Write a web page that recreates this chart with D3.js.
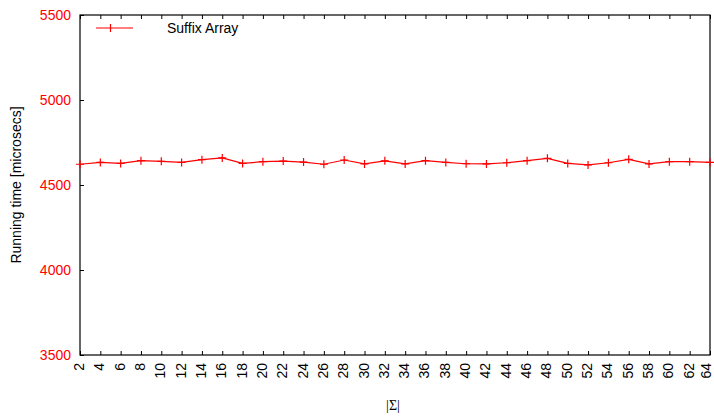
<!DOCTYPE html>
<html>
<head>
<meta charset="utf-8">
<script src="https://cdn.jsdelivr.net/npm/d3@7"></script>
<style>
  body { margin: 0; background: #fff; }
  svg text { font-family: "Liberation Sans", Arial, sans-serif; }
</style>
</head>
<body>
<div id="chart"></div>
<script>
// alphabet sizes |Sigma|
const sigma = [2, 4, 6, 8, 10, 12, 14, 16, 18, 20, 22, 24, 26, 28, 30, 32,
               34, 36, 38, 40, 42, 44, 46, 48, 50, 52, 54, 56, 58, 60, 62, 64];
// running time of the suffix array, microsecs
const suffixArray = [4622, 4633, 4627, 4643, 4639, 4633, 4649, 4659, 4627, 4637, 4641, 4635, 4622, 4647, 4624, 4642,
                     4624, 4643, 4633, 4625, 4624, 4631, 4643, 4657, 4627, 4618, 4631, 4651, 4624, 4637, 4637, 4633];
const yTicks = [3500, 4000, 4500, 5000, 5500];
const seriesName = "Suffix Array";

const W = 714, H = 419;
const margin = {top: 15, right: 4, bottom: 64, left: 80};
const width = W - margin.left - margin.right;
const height = H - margin.top - margin.bottom;

const svg = d3.select("#chart").append("svg")
  .attr("width", W).attr("height", H);
const g = svg.append("g")
  .attr("transform", "translate(" + margin.left + "," + margin.top + ")");

const x = d3.scaleLinear().domain([2, 64]).range([0, width]);
const y = d3.scaleLinear().domain([3500, 5500]).range([height, 0]);

// bottom axis, ticks pointing inward
const xAxis = g.append("g")
  .attr("transform", "translate(0," + height + ")")
  .call(d3.axisBottom(x).tickValues(sigma).tickSize(-4).tickFormat(d3.format("d")));
xAxis.select(".domain").remove();
xAxis.selectAll("line").attr("stroke", "#000");
xAxis.selectAll("text")
  .attr("transform", "rotate(-90)")
  .attr("x", -8).attr("y", 0)
  .attr("dy", d => d === 64 ? "0.02em" : "0.25em")   // keep the last one inside the page
  .style("text-anchor", "end")
  .style("font-size", "14px")
  .attr("fill", "#000");

// mirrored ticks on top
const xTop = g.append("g")
  .call(d3.axisTop(x).tickValues(sigma).tickSize(-4).tickFormat(""));
xTop.select(".domain").remove();

// left axis
const yAxis = g.append("g")
  .call(d3.axisLeft(y).tickValues(yTicks).tickSize(-4).tickPadding(9).tickFormat(d3.format("d")));
yAxis.select(".domain").remove();
yAxis.selectAll("text")
  .style("font-size", "14px")
  .attr("fill", "#ff0000");

// border
g.append("rect")
  .attr("x", 0).attr("y", 0)
  .attr("width", width).attr("height", height)
  .attr("fill", "none")
  .attr("stroke", "#000")
  .attr("stroke-width", 1.2);

// series line
const line = d3.line()
  .x((d, i) => x(sigma[i]))
  .y(d => y(d));

g.append("path")
  .datum(suffixArray)
  .attr("fill", "none")
  .attr("stroke", "#ff0000")
  .attr("stroke-width", 1.2)
  .attr("d", line);

g.selectAll(".pt")
  .data(suffixArray)
  .enter()
  .append("path")
  .attr("class", "pt")
  .attr("transform", (d, i) => "translate(" + x(sigma[i]) + "," + y(d) + ")")
  .attr("d", "M-4,0H4M0,-4V4")
  .attr("stroke", "#ff0000")
  .attr("stroke-width", 1.2)
  .attr("fill", "none");

// legend
const leg = g.append("g").attr("transform", "translate(0,13)");
leg.append("line")
  .attr("x1", 16).attr("x2", 53).attr("y1", 0).attr("y2", 0)
  .attr("stroke", "#ff0000").attr("stroke-width", 1.2);
leg.append("path")
  .attr("d", "M30.5,-4V4")
  .attr("stroke", "#ff0000").attr("stroke-width", 1.2);
leg.append("text")
  .attr("x", 87).attr("y", 0).attr("dy", "0.35em")
  .style("font-size", "14px")
  .attr("fill", "#000")
  .text(seriesName);

// axis titles
svg.append("text")
  .attr("transform", "translate(21," + (margin.top + height / 2) + ") rotate(-90)")
  .style("text-anchor", "middle")
  .style("font-size", "14px")
  .attr("fill", "#000")
  .text("Running time [microsecs]");

svg.append("text")
  .attr("x", margin.left + width / 2 - 2)
  .attr("y", 410)
  .style("text-anchor", "middle")
  .style("font-size", "14px")
  .style("font-family", "'Liberation Serif', serif")
  .attr("fill", "#000")
  .text("|Σ|");
</script>
</body>
</html>
